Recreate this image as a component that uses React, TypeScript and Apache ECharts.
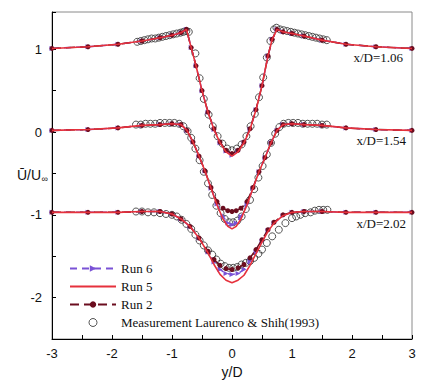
import React, { useEffect, useRef } from 'react';
import * as echarts from 'echarts';

// ---- Station x/D = 1.06 (plotted as read) ----
const S1_X = [-3, -2.4, -1.9, -1.5, -1.2, -1.0, -0.85, -0.76, -0.68, -0.6, -0.5, -0.4, -0.3, -0.2, -0.1, 0, 0.1, 0.2, 0.3, 0.4, 0.5, 0.6, 0.67, 0.75, 0.85, 1.0, 1.2, 1.5, 1.9, 2.4, 3];
const S1_RUN5 = [1.01, 1.03, 1.06, 1.10, 1.14, 1.17, 1.20, 1.24, 1.02, 0.80, 0.50, 0.24, 0.03, -0.13, -0.24, -0.29, -0.24, -0.13, 0.03, 0.27, 0.56, 0.92, 1.12, 1.24, 1.21, 1.19, 1.16, 1.11, 1.06, 1.03, 1.01];
const S1_RUN2 = [1.01, 1.03, 1.06, 1.10, 1.14, 1.17, 1.20, 1.24, 1.02, 0.80, 0.50, 0.24, 0.04, -0.12, -0.22, -0.26, -0.22, -0.12, 0.04, 0.27, 0.56, 0.92, 1.12, 1.24, 1.21, 1.19, 1.16, 1.11, 1.06, 1.03, 1.01];
const S1_RUN6 = [1.01, 1.03, 1.06, 1.10, 1.14, 1.17, 1.20, 1.24, 1.02, 0.80, 0.50, 0.24, 0.03, -0.13, -0.23, -0.28, -0.23, -0.13, 0.03, 0.27, 0.56, 0.92, 1.12, 1.24, 1.21, 1.19, 1.16, 1.11, 1.06, 1.03, 1.01];
const M1_X = [-1.58, -1.52, -1.46, -1.40, -1.34, -1.28, -1.22, -1.16, -1.10, -1.04, -0.98, -0.92, -0.86, -0.81, -0.76, -0.72, -0.61, -0.54, -0.47, -0.39, -0.32, -0.24, -0.16, -0.08, 0.0, 0.08, 0.16, 0.24, 0.31, 0.38, 0.45, 0.52, 0.58, 0.64, 0.70, 0.74, 0.80, 0.86, 0.92, 0.98, 1.04, 1.10, 1.16, 1.22, 1.28, 1.34, 1.40, 1.46, 1.52, 1.58];
const M1_Y = [1.09, 1.10, 1.11, 1.12, 1.13, 1.13, 1.14, 1.15, 1.16, 1.17, 1.18, 1.19, 1.20, 1.21, 1.22, 1.21, 0.95, 0.65, 0.40, 0.21, 0.07, -0.05, -0.14, -0.20, -0.22, -0.20, -0.15, -0.05, 0.07, 0.22, 0.42, 0.66, 0.90, 1.10, 1.24, 1.26, 1.24, 1.23, 1.22, 1.21, 1.20, 1.19, 1.18, 1.17, 1.16, 1.15, 1.14, 1.13, 1.12, 1.11];

// ---- Station x/D = 1.54 (shifted by -1) ----
const S2_X = [-3, -2.4, -1.9, -1.5, -1.2, -1.0, -0.85, -0.75, -0.65, -0.55, -0.45, -0.35, -0.25, -0.15, -0.07, 0, 0.07, 0.15, 0.25, 0.35, 0.45, 0.55, 0.65, 0.75, 0.85, 1.0, 1.2, 1.5, 1.9, 2.4, 3];
const S2_RUN5 = [0.02, 0.03, 0.05, 0.08, 0.09, 0.10, 0.09, 0.02, -0.12, -0.29, -0.47, -0.68, -0.88, -1.05, -1.14, -1.17, -1.14, -1.05, -0.88, -0.68, -0.48, -0.31, -0.13, 0.02, 0.09, 0.10, 0.09, 0.08, 0.05, 0.03, 0.02];
const S2_RUN2 = [0.02, 0.03, 0.05, 0.08, 0.09, 0.10, 0.09, 0.02, -0.12, -0.29, -0.47, -0.67, -0.84, -0.92, -0.95, -0.96, -0.95, -0.92, -0.84, -0.67, -0.48, -0.31, -0.13, 0.02, 0.09, 0.10, 0.09, 0.08, 0.05, 0.03, 0.02];
const S2_RUN6 = [0.02, 0.03, 0.05, 0.08, 0.09, 0.10, 0.09, 0.02, -0.12, -0.29, -0.47, -0.68, -0.87, -1.02, -1.10, -1.12, -1.10, -1.02, -0.87, -0.68, -0.48, -0.31, -0.13, 0.02, 0.09, 0.10, 0.09, 0.08, 0.05, 0.03, 0.02];
const M2_X = [-1.60, -1.52, -1.44, -1.36, -1.28, -1.20, -1.12, -1.04, -0.96, -0.88, -0.81, -0.74, -0.68, -0.61, -0.54, -0.47, -0.40, -0.33, -0.26, -0.19, -0.12, -0.05, 0.02, 0.09, 0.16, 0.23, 0.30, 0.37, 0.44, 0.51, 0.58, 0.65, 0.72, 0.79, 0.86, 0.94, 1.02, 1.10, 1.18, 1.26, 1.34, 1.42, 1.50, 1.58];
const M2_Y = [0.09, 0.09, 0.10, 0.10, 0.10, 0.11, 0.11, 0.11, 0.11, 0.10, 0.07, 0.01, -0.07, -0.20, -0.34, -0.48, -0.62, -0.76, -0.89, -0.98, -1.05, -1.09, -1.09, -1.07, -1.02, -0.93, -0.82, -0.69, -0.55, -0.41, -0.27, -0.13, -0.02, 0.06, 0.10, 0.11, 0.11, 0.11, 0.10, 0.10, 0.10, 0.10, 0.09, 0.09];

// ---- Station x/D = 2.02 (shifted by -2) ----
const S3_X = [-3, -2.4, -1.9, -1.5, -1.2, -1.0, -0.85, -0.7, -0.55, -0.4, -0.3, -0.2, -0.1, 0, 0.1, 0.2, 0.3, 0.4, 0.5, 0.6, 0.7, 0.85, 1.0, 1.2, 1.5, 1.9, 2.4, 3];
const S3_RUN5 = [-0.97, -0.97, -0.97, -0.96, -0.96, -0.99, -1.05, -1.14, -1.28, -1.46, -1.60, -1.72, -1.79, -1.82, -1.79, -1.73, -1.61, -1.47, -1.33, -1.20, -1.10, -1.01, -0.97, -0.96, -0.96, -0.97, -0.97, -0.97];
const S3_RUN2 = [-0.97, -0.97, -0.97, -0.96, -0.96, -0.99, -1.05, -1.14, -1.28, -1.44, -1.54, -1.61, -1.65, -1.66, -1.64, -1.60, -1.52, -1.42, -1.30, -1.18, -1.09, -1.00, -0.97, -0.96, -0.96, -0.97, -0.97, -0.97];
const S3_RUN6 = [-0.97, -0.97, -0.97, -0.96, -0.96, -0.99, -1.05, -1.14, -1.28, -1.45, -1.57, -1.66, -1.71, -1.72, -1.71, -1.66, -1.56, -1.45, -1.32, -1.19, -1.10, -1.01, -0.97, -0.96, -0.96, -0.97, -0.97, -0.97];
const M3_X = [-1.60, -1.50, -1.40, -1.30, -1.20, -1.10, -1.00, -0.92, -0.84, -0.76, -0.68, -0.61, -0.54, -0.47, -0.40, -0.33, -0.26, -0.19, -0.12, -0.05, 0.02, 0.09, 0.16, 0.23, 0.30, 0.37, 0.44, 0.50, 0.58, 0.67, 0.78, 0.89, 1.00, 1.07, 1.14, 1.22, 1.31, 1.38, 1.45, 1.52, 1.59];
const M3_Y = [-0.96, -0.96, -0.97, -0.97, -0.98, -0.99, -1.00, -1.02, -1.06, -1.11, -1.17, -1.24, -1.31, -1.37, -1.43, -1.48, -1.54, -1.59, -1.62, -1.64, -1.64, -1.63, -1.60, -1.58, -1.56, -1.52, -1.47, -1.42, -1.34, -1.26, -1.18, -1.10, -1.04, -1.02, -1.00, -0.98, -0.97, -0.95, -0.94, -0.94, -0.94];

const STATION_LABELS = ['x/D=1.06', 'x/D=1.54', 'x/D=2.02'];
const LEGEND_NAMES = ['Run 6', 'Run 5', 'Run 2', 'Measurement Laurenco & Shih(1993)'];

const SANS = '"Liberation Sans", Arial, sans-serif';
const SERIF = '"Liberation Serif", "Times New Roman", serif';

const pairs = (xs: number[], ys: number[]) => xs.map((x, i) => [x, ys[i]]);
const isInt = (v: number) => Math.abs(v - Math.round(v)) < 1e-6;

export default function App() {
  const ref = useRef<HTMLDivElement>(null);
  useEffect(() => {
    if (!ref.current) return;
    const chart = echarts.init(ref.current, null, { renderer: 'svg' });
    const stations = [
      { x: S1_X, r6: S1_RUN6, r5: S1_RUN5, r2: S1_RUN2, mx: M1_X, my: M1_Y },
      { x: S2_X, r6: S2_RUN6, r5: S2_RUN5, r2: S2_RUN2, mx: M2_X, my: M2_Y },
      { x: S3_X, r6: S3_RUN6, r5: S3_RUN5, r2: S3_RUN2, mx: M3_X, my: M3_Y },
    ];
    const series: any[] = [];
    stations.forEach((s) => {
      series.push({
        name: LEGEND_NAMES[3], type: 'scatter', data: pairs(s.mx, s.my),
        symbol: 'circle', symbolSize: 7, z: 1,
        itemStyle: { color: 'rgba(255,255,255,0)', borderColor: '#2a2a2a', borderWidth: 1 },
      });
    });
    stations.forEach((s) => {
      series.push({
        name: LEGEND_NAMES[0], type: 'line', data: pairs(s.x, s.r6), z: 2,
        symbol: 'triangle', symbolRotate: -90, symbolSize: 5,
        lineStyle: { color: '#7a52d6', width: 1.5, type: [7, 5] },
        itemStyle: { color: '#7a52d6' },
      });
    });
    stations.forEach((s) => {
      series.push({
        name: LEGEND_NAMES[2], type: 'line', data: pairs(s.x, s.r2), z: 3,
        symbol: 'circle', symbolSize: 5,
        lineStyle: { color: '#6b0d1f', width: 1.5, type: [9, 5] },
        itemStyle: { color: '#6b0d1f' },
      });
    });
    stations.forEach((s) => {
      series.push({
        name: LEGEND_NAMES[1], type: 'line', data: pairs(s.x, s.r5), z: 4,
        symbol: 'none',
        lineStyle: { color: '#e6313c', width: 1.6 },
        itemStyle: { color: '#e6313c' },
      });
    });

    chart.setOption({
      animation: false,
      grid: { left: 52, right: 20, top: 12, bottom: 49, show: true, borderColor: '#8a8a8a', borderWidth: 1 },
      legend: {
        data: [
          { name: LEGEND_NAMES[0] },
          { name: LEGEND_NAMES[1], itemStyle: { opacity: 0 } },
          { name: LEGEND_NAMES[2], itemStyle: { borderWidth: 0 } },
          { name: LEGEND_NAMES[3], itemStyle: { color: 'rgba(255,255,255,0)', borderColor: '#2a2a2a', borderWidth: 1 } },
        ],
        orient: 'vertical', left: 69, top: 262, padding: 0,
        itemWidth: 46, itemHeight: 8, itemGap: 5,
        textStyle: { fontFamily: SERIF, fontSize: 13, color: '#111' },
      },
      xAxis: {
        type: 'value', min: -3, max: 3, interval: 0.5,
        name: 'y/D', nameLocation: 'middle', nameGap: 20,
        nameTextStyle: { fontFamily: SANS, fontSize: 14, color: '#111' },
        axisLine: { onZero: false, lineStyle: { color: '#000', width: 1 } },
        axisTick: { inside: true, length: 4, lineStyle: { color: '#000' } },
        axisLabel: { formatter: (v: number) => (isInt(v) ? String(Math.round(v)) : ''), fontFamily: SANS, fontSize: 13, color: '#111', margin: 8 },
        splitLine: { show: false },
      },
      yAxis: {
        type: 'value', min: -2.5, max: 1.45, interval: 0.5,
        axisLine: { onZero: false, lineStyle: { color: '#000', width: 1 } },
        axisTick: { inside: true, length: 4, lineStyle: { color: '#000' } },
        axisLabel: { formatter: (v: number) => (isInt(v) ? String(Math.round(v)) : ''), fontFamily: SANS, fontSize: 13, color: '#111', margin: 10 },
        splitLine: { show: false },
      },
      graphic: [
        { type: 'text', x: 403, y: 57, style: { text: STATION_LABELS[0], align: 'right', verticalAlign: 'middle', fontFamily: SERIF, fontSize: 13, fill: '#111' } },
        { type: 'text', x: 406, y: 140, style: { text: STATION_LABELS[1], align: 'right', verticalAlign: 'middle', fontFamily: SERIF, fontSize: 13, fill: '#111' } },
        { type: 'text', x: 406, y: 223, style: { text: STATION_LABELS[2], align: 'right', verticalAlign: 'middle', fontFamily: SERIF, fontSize: 13, fill: '#111' } },
        { type: 'text', x: 17, y: 175, style: { text: 'Ū/U', align: 'left', verticalAlign: 'middle', fontFamily: SANS, fontSize: 14, fill: '#111' } },
        { type: 'text', x: 41.5, y: 179, style: { text: '∞', align: 'left', verticalAlign: 'middle', fontFamily: SANS, fontSize: 9, fill: '#111' } },
      ],
      series,
    });
    return () => chart.dispose();
  }, []);
  return <div ref={ref} style={{ position: 'fixed', left: 0, top: 0, width: 432, height: 388, background: '#fff' }} />;
}
